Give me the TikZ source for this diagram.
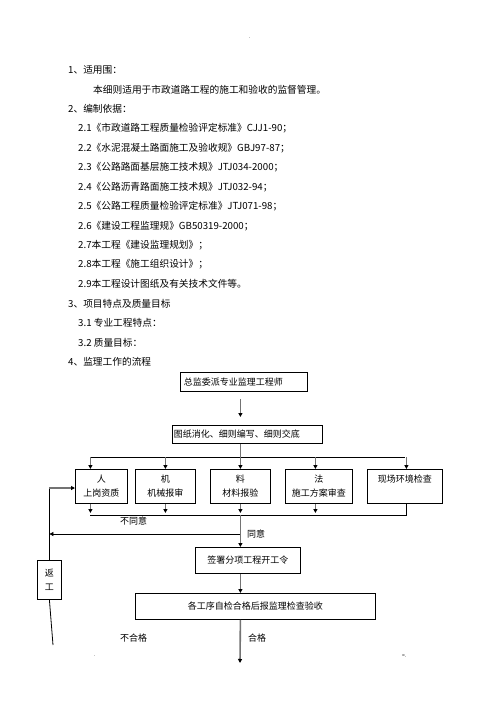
\documentclass[tikz,border=0pt]{standalone}
\usepackage{fontspec}
\setmainfont{Noto Sans CJK SC}
\usetikzlibrary{arrows.meta}

\tikzset{
  txt/.style={anchor=west, inner sep=0pt, font=\fontsize{9.7}{12}\selectfont},
  lbl/.style={anchor=west, inner sep=0pt, font=\fontsize{9}{11}\selectfont},
  box/.style={draw, line width=0.8pt, fill=white, inner sep=0pt, anchor=north west,
    font=\fontsize{9}{14}\selectfont, align=center},
  trunk/.style={draw=black!55, line width=1.6pt},
  thin/.style={draw=black, line width=0.8pt},
  tip/.style={-{Triangle[length=4pt,width=4pt,color=black]}}
}

\begin{document}
\begin{tikzpicture}[x=1pt, y=-1pt]
  \useasboundingbox (0, 0) rectangle (496, 702);

  \node [lbl, font=\tiny] (hdr) at (249, 38) {.};

  \node [txt] (s1) at (68, 70) {1、适用围：};
  \node [txt] (s1a) at (93, 89.5) {本细则适用于市政道路工程的施工和验收的监督管理。};
  \node [txt] (s2) at (68, 109) {2、编制依据：};
  \node [txt] (s21) at (78, 128.4) {2.1《市政道路工程质量检验评定标准》CJJ1-90；};
  \node [txt] (s22) at (78, 147.8) {2.2《水泥混凝土路面施工及验收规》GBJ97-87；};
  \node [txt] (s23) at (78, 167.3) {2.3《公路路面基层施工技术规》JTJ034-2000；};
  \node [txt] (s24) at (78, 186.8) {2.4《公路沥青路面施工技术规》JTJ032-94；};
  \node [txt] (s25) at (78, 206.2) {2.5《公路工程质量检验评定标准》JTJ071-98；};
  \node [txt] (s26) at (78, 225.7) {2.6《建设工程监理规》GB50319-2000；};
  \node [txt] (s27) at (78, 245.1) {2.7本工程《建设监理规划》；};
  \node [txt] (s28) at (78, 264.6) {2.8本工程《施工组织设计》；};
  \node [txt] (s29) at (78, 284) {2.9本工程设计图纸及有关技术文件等。};
  \node [txt] (s3) at (68, 303.5) {3、项目特点及质量目标};
  \node [txt] (s31) at (78, 323) {3.1 专业工程特点：};
  \node [txt] (s32) at (78, 342.4) {3.2 质量目标：};
  \node [txt] (s4) at (68, 361.9) {4、监理工作的流程};

  % flow chart boxes
  \node [box, minimum width=127, minimum height=19, text width=120, align=left] (zj) at (180, 372) {总监委派专业监理工程师};
  \node [box, minimum width=150, minimum height=18, text width=147, align=left] (tz) at (172, 425) {图纸消化、细则编写、细则交底};

  \node [box, minimum width=52, minimum height=34] (ren) at (75, 469) {人\\上岗资质};
  \node [box, minimum width=60, minimum height=34] (ji) at (135, 469) {机\\机械报审};
  \node [box, minimum width=60, minimum height=34] (liao) at (210, 469) {料\\材料报验};
  \node [box, minimum width=67, minimum height=34] (fa) at (285, 469) {法\\施工方案审查};
  \node [box, minimum width=75, minimum height=34] (xc) at (367, 469) {现场环境检查\\\phantom{现}};

  \node [box, minimum width=105, minimum height=26] (qs) at (195, 547) {签署分项工程开工令};
  \node [box, minimum width=240, minimum height=26] (gx) at (135, 593) {各工序自检合格后报监理检查验收};
  \node [box, minimum width=24, minimum height=39] (fg) at (37, 560) {返\\工};

  \coordinate (bus) at (0, 457);
  \coordinate (bus2) at (0, 515);
  \coordinate (ty) at (240, 534);
  \coordinate (bot) at (53, 645);
  \coordinate (end) at (240, 663);

  % connectors
  \draw [trunk, tip, shorten <=7pt, shorten >=8pt] (zj.south -| liao.north) -- (tz.north -| liao.north);
  \draw [trunk] (tz.south -| liao.north) -- (liao.north |- bus);
  \draw [thin] ([xshift=-11pt]ren.north |- bus) -- (xc.north |- bus);
  \draw [trunk, tip] ([xshift=-11pt]ren.north |- bus) -- ([xshift=-11pt]ren.north);
  \draw [trunk, tip] (ji.north |- bus) -- (ji.north);
  \draw [trunk, tip] (liao.north |- bus) -- (liao.north);
  \draw [trunk, tip] ([xshift=-3.5pt]fa.north |- bus) -- ([xshift=-3.5pt]fa.north);
  \draw [trunk, tip] ([xshift=1.5pt]xc.north |- bus) -- ([xshift=1.5pt]xc.north);

  \draw [trunk, tip, shorten >=2pt] ([xshift=-11pt]ren.south) -- ([xshift=-11pt]ren.south |- bus2);
  \draw [trunk, tip, shorten >=2pt] (ji.south) -- (ji.south |- bus2);
  \draw [trunk, tip, shorten >=2pt] (liao.south) -- (liao.south |- bus2);
  \draw [trunk, tip, shorten >=2pt] ([xshift=-3.5pt]fa.south) -- ([xshift=-3.5pt]fa.south |- bus2);
  \draw [thin] ([xshift=1.5pt]xc.south) -- ([xshift=1.5pt]xc.south |- bus2) -- ([xshift=-11pt]ren.south |- bus2);

  \draw [trunk, tip] (liao.south |- bus2) -- (qs.north -| liao.south);
  \draw [thin, tip] (ty) -- (ty -| fg.north);
  \draw [trunk, tip] (qs.south -| liao.south) -- (gx.north -| liao.south);
  \draw [trunk, tip] (gx.south -| liao.south) -- (end);

  \draw [thin] (bot) -- (fg.south);
  \draw [thin] (fg.north) -- (fg.north |- 0, 488);
  \draw [trunk, tip] (fg.north |- 0, 488) -- (ren.west |- 0, 488);

  \node [lbl] (bty) at (120, 521) {不同意};
  \node [lbl] (tyl) at (247, 534) {同意};
  \node [lbl] (bhg) at (120, 638) {不合格};
  \node [lbl] (hg) at (248, 638) {合格};

  \node [lbl, font=\tiny] (ftl) at (94, 656) {.};
  \node [lbl, font=\tiny] (ftr) at (402, 656) {=.};
\end{tikzpicture}
\end{document}
